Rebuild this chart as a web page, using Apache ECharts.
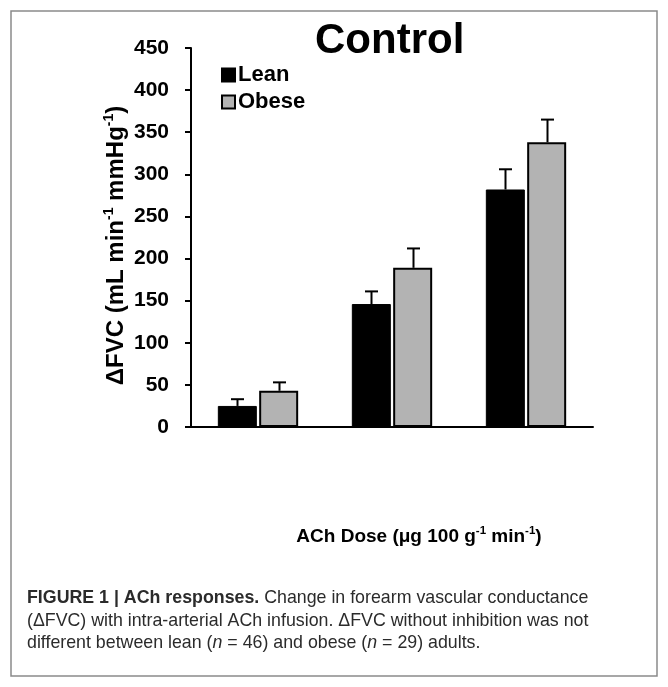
<!DOCTYPE html>
<html>
<head>
<meta charset="utf-8">
<script src="https://cdn.jsdelivr.net/npm/echarts@6/dist/echarts.min.js"></script>
<style>html,body{margin:0;padding:0;background:#fff}#c{width:668px;height:687px}</style>
</head>
<body>
<div id="c"></div>
<script>
// ---- data ----
const categories = ['Dose 1', 'Dose 2', 'Dose 3'];
const leanMean = [25, 146, 282];
const leanErr = [8, 15, 24];
const obeseMean = [43, 189, 338];
const obeseErr = [10, 23, 27];
const yTicks = [0, 50, 100, 150, 200, 250, 300, 350, 400, 450];

const FONT = '"Liberation Sans", Arial, sans-serif';
const BAR_W = 39;
const BAR_GAP = 0.06;
const OFF = (BAR_W + BAR_W * BAR_GAP) / 2;

const chart = echarts.init(document.getElementById('c'), null, {renderer: 'canvas'});

function errSeries(name, mean, err, sign) {
  return {
    type: 'custom',
    name: name + ' err',
    z: 5,
    silent: true,
    data: mean.map((m, i) => [i, m, m + err[i]]),
    renderItem: function (params, api) {
      const a = api.coord([api.value(0), api.value(1)]);
      const b = api.coord([api.value(0), api.value(2)]);
      const x = Math.round(a[0] + sign * OFF) + 0.5;
      return {
        type: 'group',
        children: [
          {type: 'line', shape: {x1: x, y1: a[1], x2: x, y2: b[1]}, style: {stroke: '#000', lineWidth: 2}},
          {type: 'line', shape: {x1: x - 6.5, y1: b[1], x2: x + 6.5, y2: b[1]}, style: {stroke: '#000', lineWidth: 2}}
        ]
      };
    }
  };
}

const option = {
  backgroundColor: '#fff',
  animation: false,
  title: {
    text: 'Control',
    left: 310, top: 15,
    textStyle: {fontFamily: FONT, fontSize: 42, fontWeight: 'bold', color: '#000'}
  },
  legend: {
    data: ['Lean', 'Obese'],
    orient: 'vertical',
    left: 216, top: 59,
    itemWidth: 13, itemHeight: 13, itemGap: 5,
    icon: 'rect',
    textStyle: {fontFamily: FONT, fontSize: 22, fontWeight: 'bold', color: '#000', padding: [0, 0, 0, -2]}
  },
  grid: {left: 191, right: 75, top: 48, bottom: 260, containLabel: false},
  xAxis: {
    type: 'category',
    data: categories,
    name: 'ACh Dose (μg 100 g{s|-1} min{s|-1})',
    nameLocation: 'middle',
    nameGap: 98,
    nameTextStyle: {
      fontFamily: FONT, fontSize: 19, fontWeight: 'bold', color: '#000', lineHeight: 23,
      padding: [0, 0, 0, 54],
      rich: {s: {fontFamily: FONT, fontSize: 11.5, fontWeight: 'bold', color: '#000', verticalAlign: 'top', lineHeight: 11}}
    },
    axisLine: {lineStyle: {color: '#000', width: 2}},
    axisTick: {show: false},
    axisLabel: {show: false}
  },
  yAxis: {
    type: 'value',
    min: 0, max: 450, interval: 50,
    name: 'ΔFVC (mL min{s|-1} mmHg{s|-1})',
    nameLocation: 'middle',
    nameGap: 61,
    nameMoveOverlap: false,
    nameRotate: 90,
    nameTextStyle: {
      fontFamily: FONT, fontSize: 24, fontWeight: 'bold', color: '#000', lineHeight: 28,
      padding: [0, 16, 0, 0],
      rich: {s: {fontFamily: FONT, fontSize: 14, fontWeight: 'bold', color: '#000', verticalAlign: 'top', lineHeight: 14}}
    },
    axisLine: {show: true, lineStyle: {color: '#000', width: 2}},
    axisTick: {show: true, inside: false, length: 6, lineStyle: {color: '#000', width: 2}},
    axisLabel: {
      fontFamily: FONT, fontSize: 21, fontWeight: 'bold', color: '#000', margin: 22,
      formatter: v => yTicks.indexOf(v) >= 0 ? String(v) : ''
    },
    splitLine: {show: false}
  },
  series: [
    {
      name: 'Lean', type: 'bar', data: leanMean,
      barWidth: BAR_W, barGap: (BAR_GAP * 100) + '%',
      itemStyle: {color: '#000', borderColor: '#000', borderWidth: 1}
    },
    {
      name: 'Obese', type: 'bar', data: obeseMean,
      barWidth: BAR_W,
      itemStyle: {color: '#b3b3b3', borderColor: '#000', borderWidth: 2}
    },
    errSeries('Lean', leanMean, leanErr, -1),
    errSeries('Obese', obeseMean, obeseErr, 1)
  ],
  graphic: [
    {
      type: 'rect', silent: true, z: -1,
      shape: {x: 11, y: 11, width: 646, height: 665},
      style: {fill: 'none', stroke: '#8a8a8a', lineWidth: 1.5}
    },
    {
      type: 'text', left: 27, top: 587,
      style: {
        text: '{b|FIGURE 1 | ACh responses.} Change in forearm vascular conductance\n(ΔFVC) with intra-arterial ACh infusion. ΔFVC without inhibition was not\ndifferent between lean ({i|n} = 46) and obese ({i|n} = 29) adults.',
        fontFamily: FONT, fontSize: 17.8, lineHeight: 22.5, fill: '#2b2b2b',
        rich: {
          b: {fontFamily: FONT, fontSize: 17.8, fontWeight: 'bold', fill: '#2b2b2b', lineHeight: 22.5},
          i: {fontFamily: FONT, fontSize: 17.8, fontStyle: 'italic', fill: '#2b2b2b', lineHeight: 22.5}
        }
      }
    }
  ]
};
chart.setOption(option);
</script>
</body>
</html>
